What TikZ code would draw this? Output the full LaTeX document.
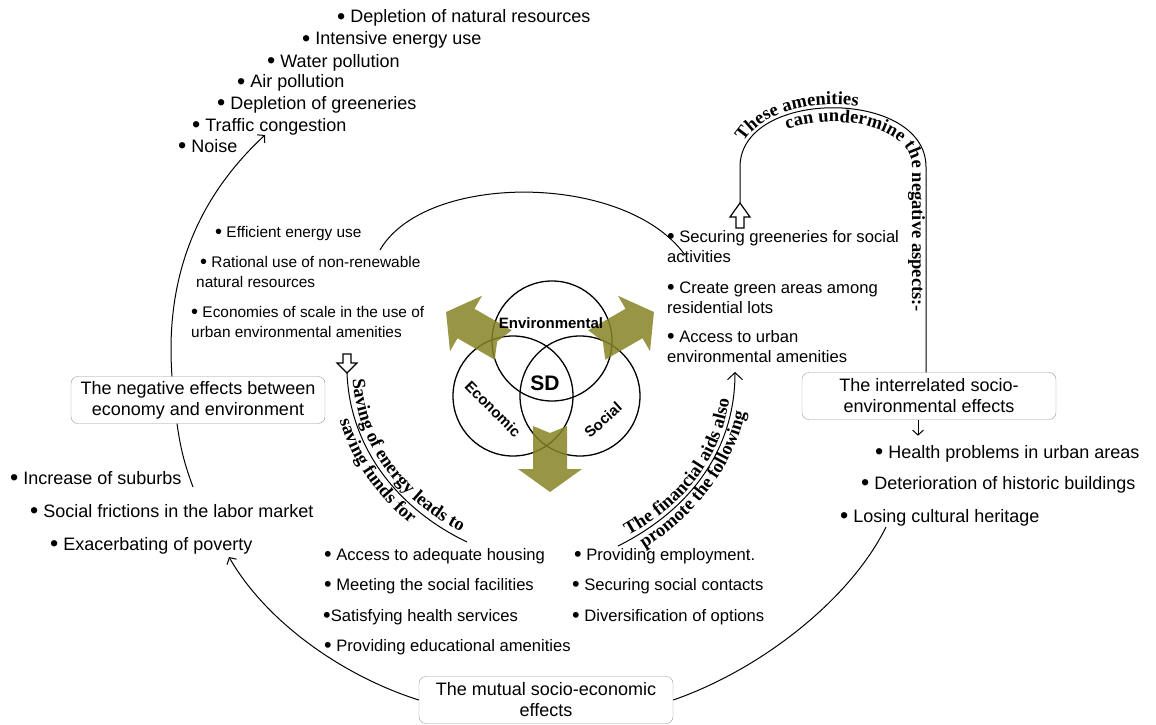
\documentclass[tikz,border=0pt]{standalone}
\usepackage{fontspec}
\setmainfont{Liberation Sans}
\newfontfamily\curvefont{Liberation Serif}
\usetikzlibrary{arrows.meta,decorations.text}

\definecolor{sdgreen}{RGB}{134,132,37}
\definecolor{boxgray}{RGB}{150,150,150}
\newcommand\curvestyle{\curvefont\bfseries\fontsize{18.5}{20}\selectfont}
\newcommand\bul{\raisebox{-0.08em}{\scalebox{1.3}{•}}}

\tikzset{
  listtxt/.style={anchor=base west, inner sep=0pt, font=\fontsize{18}{21.6}\selectfont},
  smalltxt/.style={anchor=base west, inner sep=0pt, align=left, font=\fontsize{15.4}{20}\selectfont},
  midtxt/.style={anchor=base west, inner sep=0pt, align=left, font=\fontsize{16.6}{20}\selectfont},
  effectbox/.style={draw=boxgray, rounded corners=7pt, align=center, minimum width=254pt,
    minimum height=47pt, inner sep=2pt, font=\fontsize{18}{21}\selectfont},
  pillar/.style={font=\bfseries\fontsize{15}{18}\selectfont},
  flow/.style={line width=1pt},
  barbtip/.style={-{Straight Barb[length=5pt,width=11pt]}},
  openarrow/.style={draw, line width=1.2pt, fill=white, line join=miter},
  venn/.style={draw, line width=1.3pt},
  curvelabel/.style={decorate, decoration={text along path, text={|\curvestyle|#1}}}
}

\begin{document}
\begin{tikzpicture}[x=1pt, y=-1pt]
  \useasboundingbox (0,0) rectangle (1156,725);

  % three pillars
  \draw[venn] (552,341) circle[radius=60pt];
  \draw[venn] (513,396) circle[radius=60pt];
  \draw[venn] (580,396) circle[radius=60pt];
  % green arrows out of SD
  \foreach \ang in {150,30,270} {
    \fill[sdgreen, opacity=0.85, shift={(550,372)}, rotate=\ang]
      (54,17) -- (97,17) -- (97,32) -- (120,0) -- (97,-32) -- (97,-17) -- (54,-17) -- (61,0) -- cycle;
  }
  \node[pillar] (env) at (551,323) {Environmental};
  \node[font=\bfseries\fontsize{21}{24}\selectfont] (sd) at (545,383) {SD};
  \node[pillar, rotate=-45] (eco) at (493,409) {Economic};
  \node[pillar, rotate=42] (soc) at (603,420) {Social};

  % effect boxes
  \node[effectbox] (negbox) at (198,400) {The negative effects between\\economy and environment};
  \node[effectbox] (iebox) at (929,396) {The interrelated socio-\\environmental effects};
  \node[effectbox] (mutbox) at (546,700) {The mutual socio-economic\\effects};

  % upper left list
  \foreach \x/\y/\t [count=\n] in {340/18/Depletion of natural resources, 305/40/Intensive energy use,
      270/62/Water pollution, 240/83/Air pollution, 220/104/Depletion of greeneries,
      195/126/Traffic congestion, 181/147/Noise} {
    \node[listtxt] (envlist\n) at (\x-3,\y+5) {\bul\ \t};
  }
  % lower left list
  \foreach \x/\y/\t [count=\n] in {13/479/Increase of suburbs, 33/512/Social frictions in the labor market,
      53/545/Exacerbating of poverty} {
    \node[listtxt] (ecolist\n) at (\x-3,\y+5) {\bul\ \t};
  }
  % lower right list
  \foreach \x/\y/\t [count=\n] in {878/453/Health problems in urban areas,
      864/484/Deterioration of historic buildings, 843/517/Losing cultural heritage} {
    \node[listtxt] (senlist\n) at (\x-3,\y+5) {\bul\ \t};
  }
  % bottom lists
  \foreach \x/\y/\t [count=\n] in {327/556/\bul\ Access to adequate housing, 327/586/\bul\ Meeting the social facilities,
      326/617/\bul{}Satisfying health services, 327/647/\bul\ Providing educational amenities} {
    \node[midtxt] (fundlist\n) at (\x-3,\y+4.5) {\t};
  }
  \foreach \x/\y/\t [count=\n] in {577/556/\bul\ Providing employment., 575/586/\bul\ Securing social contacts,
      575/617/\bul\ Diversification of options} {
    \node[midtxt] (aidlist\n) at (\x-3,\y+4.5) {\t};
  }

  % middle lists (base = last line)
  \node[smalltxt] (use1) at (215,237) {\bul\ Efficient energy use};
  \node[smalltxt] (use2) at (196,287) {\hspace*{4pt}\bul\ Rational use of non-renewable\\natural resources};
  \node[smalltxt] (use3) at (191,337) {\bul\ Economies of scale in the use of\\urban environmental amenities};
  \node[midtxt] (green1) at (667,262.5) {\bul\ Securing greeneries for social\\activities};
  \node[midtxt] (green2) at (667,313.5) {\bul\ Create green areas among\\residential lots};
  \node[midtxt] (green3) at (667,362.5) {\bul\ Access to urban\\environmental amenities};

  % free ends
  \coordinate (noiseTip) at (265,135);
  \coordinate (suburbEnd) at (193,487);
  \coordinate (povTip) at (229,557);
  \coordinate (heritEnd) at (886,527);
  \coordinate (arcL) at (380,250);
  \coordinate (arcR) at (685,255);
  \coordinate (archL) at (740,203);
  \coordinate (saveTip) at (347,373);
  \coordinate (saveEnd) at (467,542);
  \coordinate (aidStart) at (618,546);
  \coordinate (aidTip) at (735,372);

  % connectors round the outside
  \draw[flow, barbtip] ([xshift=-26pt]negbox.north) .. controls (165,280) and (195,200) .. (noiseTip);
  \draw[flow] ([xshift=-21pt]negbox.south) to[bend right=6] (suburbEnd);
  \draw[flow, barbtip] (mutbox.west) .. controls (340,675) and (265,620) .. (povTip);
  \draw[flow] (mutbox.east) .. controls (760,670) and (850,600) .. (heritEnd);
  \draw[flow, barbtip] ([xshift=-11pt]iebox.south) -- ++(0,16);
  \draw[flow] (arcL) .. controls (425,172) and (625,172) .. (arcR);

  % open arrows
  \draw[openarrow] (archL) -- ++(10,14) -- ++(-6,0) -- ++(0,11) -- ++(-8,0) -- ++(0,-11) -- ++(-6,0) -- cycle;
  \draw[openarrow] (saveTip) -- ++(10,-10) -- ++(-6,0) -- ++(0,-9) -- ++(-8,0) -- ++(0,9) -- ++(-6,0) -- cycle;

  % arch over the amenities
  \draw[flow] (archL) -- (740,167) .. controls (740,88) and (926,88) .. (926,167) -- (926,0 |- iebox.north);
  \path[curvelabel=These amenities, decoration={text align={left indent=26pt}}]
    (737,167) .. controls (737,84) and (929,84) .. (929,167);
  \path[curvelabel=can undermine the negative aspects:-, decoration={text align=right}]
    (754,167) .. controls (754,107) and (912,107) .. (912,167) -- (912,312);

  % saving curve
  \draw[flow] (saveTip) .. controls (350,450) and (400,510) .. (saveEnd);
  \path[curvelabel=Saving of energy leads to, decoration={text align={left indent=5pt}}]
    (352.5,374) .. controls (355.5,449) and (404,506) .. (470,536.5);
  \path[curvelabel=saving funds for, decoration={text align={left indent=48pt}}]
    (332,373) .. controls (335,455) and (389,522) .. (461,556);

  % financial aids curve
  \draw[flow, -{Straight Barb[length=7pt,width=15pt]}] (aidStart) .. controls (690,510) and (735,450) .. (aidTip);
  \path[curvelabel=The financial aids also, decoration={text align={left indent=14pt}}]
    (616,542) .. controls (688,507) and (731,450) .. (731,372);
  \path[curvelabel=promote the following, decoration={text align={left indent=22pt}}]
    (625,559) .. controls (699,522) and (750,450) .. (750,372);
\end{tikzpicture}
\end{document}
